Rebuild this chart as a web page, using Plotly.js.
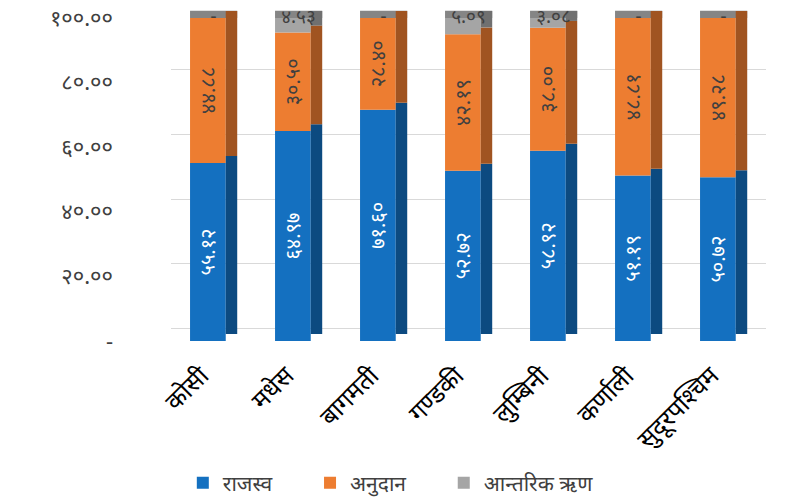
<!DOCTYPE html>
<html>
<head>
<meta charset="utf-8">
<script src="https://cdn.plot.ly/plotly-3.0.1.min.js"></script>
<style>html,body{margin:0;padding:0;background:#fff;}#chart{width:788px;height:497px;}</style>
</head>
<body>
<div id="chart"></div>
<script>
// ---- data ----
const categories = ['कोसी', 'मधेस', 'बागमती', 'गण्डकी', 'लुम्बिनी', 'कर्णाली', 'सुदूरपश्चिम'];
const revenue = [55.12, 64.97, 71.60, 52.72, 58.92, 51.19, 50.72];
const grant = [44.88, 30.50, 28.40, 42.19, 38.00, 48.81, 49.28];
const loan = [0, 4.53, 0, 5.09, 3.08, 0, 0];
const seriesNames = ['राजस्व', 'अनुदान', 'आन्तरिक ऋण'];
const yTickVals = [0, 20, 40, 60, 80, 100];
const yTickText = ['-', '२०.००', '४०.००', '६०.००', '८०.००', '१००.००'];

// ---- helpers ----
const devDigits = '०१२३४५६७८९';
function dev(v) {
  if (v === 0) return '-';
  return v.toFixed(2).replace(/[0-9]/g, d => devDigits[+d]);
}
const base2 = revenue.map((r, i) => r + grant[i]);
const totals = base2.map((b, i) => b + loan[i]);
const PAD = '\u00a0\u00a0\u00a0\u00a0\u00a0\u00a0';

const frontColors = ['rgb(20,112,192)', 'rgb(237,125,49)', 'rgb(165,165,165)'];
const sideColors = ['rgb(12,74,128)', 'rgb(160,84,33)', 'rgb(112,112,112)'];
const FW = 0.42, FO = -0.276, SW = 0.135, SO = 0.144, TOPD = 2.2;
const labelFont = 'Noto Sans, DejaVu Sans, sans-serif';

const stacks = [revenue, grant, loan];
const bases = [revenue.map(() => 0), revenue, base2];
const traces = [];
// front faces
stacks.forEach((vals, k) => {
  const t = {
    type: 'bar', x: categories, y: vals, base: bases[k],
    name: seriesNames[k] + (k < 2 ? PAD : ''),
    width: FW, offset: FO, marker: { color: frontColors[k] },
    xaxis: 'x', yaxis: 'y', hoverinfo: 'skip'
  };
  if (k < 2) {
    t.text = vals.map(dev);
    t.textposition = 'inside';
    t.insidetextanchor = 'middle';
    t.textangle = -90;
    t.constraintext = 'none';
    t.textfont = { size: 20, color: k === 0 ? '#ffffff' : '#404040', family: labelFont };
  } else {
    t.textposition = 'none';
  }
  traces.push(t);
});
// top faces
traces.push({
  type: 'bar', x: categories, y: totals.map(() => TOPD), base: totals, showlegend: false,
  width: FW + SW, offset: FO, marker: { color: 'rgb(133,133,133)' },
  xaxis: 'x', yaxis: 'y', hoverinfo: 'skip', textposition: 'none'
});
// side faces (shifted axis gives the depth)
stacks.forEach((vals, k) => {
  traces.push({
    type: 'bar', x: categories, y: vals, base: bases[k], showlegend: false,
    width: SW, offset: SO, marker: { color: sideColors[k] },
    xaxis: 'x', yaxis: 'y2', hoverinfo: 'skip', textposition: 'none'
  });
});
// loan labels on top
traces.push({
  type: 'scatter', mode: 'text', x: categories, y: totals, text: loan.map(dev),
  textposition: 'middle center', showlegend: false, hoverinfo: 'skip',
  textfont: { size: 19, color: '#404040', family: labelFont },
  xaxis: 'x', yaxis: 'y4'
});
// invisible trace to host the back-wall gridlines
traces.push({
  type: 'scatter', mode: 'markers', x: categories, y: totals, showlegend: false, hoverinfo: 'skip',
  marker: { opacity: 0, size: 1 }, xaxis: 'x', yaxis: 'y3'
});

const Y0 = 0, Y1 = 104.0, GS = 3.9;
const layout = {
  width: 788, height: 497,
  margin: { l: 171, r: 22, t: 5, b: 156, autoexpand: false },
  paper_bgcolor: '#ffffff', plot_bgcolor: 'rgba(0,0,0,0)',
  barmode: 'overlay',
  showlegend: true,
  legend: {
    orientation: 'h', xref: 'container', yref: 'container',
    x: 0.232, xanchor: 'left', y: 0.028, yanchor: 'middle',
    font: { size: 21, color: '#404040', family: labelFont },
    itemwidth: 30, traceorder: 'normal'
  },
  xaxis: {
    type: 'category', range: [-0.5, 6.5], showgrid: false, zeroline: false, showline: false,
    tickangle: -45, ticks: '', ticklabelstandoff: 14, ticklabelshift: -12, automargin: false,
    tickfont: { size: 25, color: '#000000', family: labelFont }
  },
  yaxis: {
    range: [Y0, Y1], showgrid: false, zeroline: false, showline: false,
    tickvals: yTickVals, ticktext: yTickText, ticks: '', automargin: false,
    ticklabelstandoff: 57, ticklabeloverflow: 'allow',
    tickfont: { size: 22, color: '#404040', family: labelFont }
  },
  yaxis2: {
    overlaying: 'y', range: [Y0 - 2.15, Y1 - 2.15], showgrid: false, zeroline: false,
    showline: false, showticklabels: false, ticks: ''
  },
  yaxis3: {
    overlaying: 'y', range: [Y0 - GS, Y1 - GS], showgrid: true, gridcolor: '#d9d9d9', gridwidth: 1,
    tickvals: yTickVals, zeroline: false, showline: false, showticklabels: false, ticks: ''
  },
  yaxis4: {
    overlaying: 'y', range: [Y0, Y1], showgrid: false, zeroline: false,
    showline: false, showticklabels: false, ticks: ''
  }
};

Plotly.newPlot('chart', traces, layout, { displayModeBar: false, staticPlot: true });
</script>
</body>
</html>
